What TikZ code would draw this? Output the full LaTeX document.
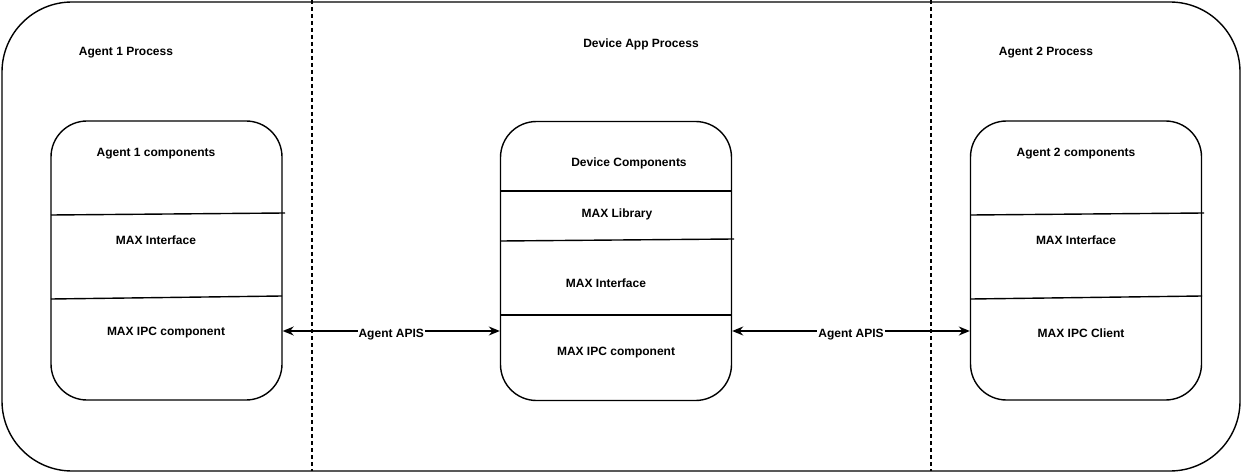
\documentclass[tikz,border=0pt]{standalone}
\usepackage{fontspec}
\setmainfont{Liberation Sans}
\usetikzlibrary{arrows.meta}
\begin{document}
\begin{tikzpicture}[x=1pt,y=-1pt,
  lbl/.style={font=\bfseries\fontsize{12}{14}\selectfont, inner sep=1pt, yshift=-2pt},
  comp/.style={draw, line width=1.4pt, rounded corners=36pt, minimum width=231pt, minimum height=279pt, inner sep=0pt},
  sep/.style={line width=1.4pt},
  divider/.style={line width=1.3pt, dash pattern=on 4pt off 3pt},
  api/.style={line width=1.4pt, {Stealth[length=11pt,width=9pt]}-{Stealth[length=11pt,width=9pt]}}
]
\useasboundingbox (0,0) rectangle (1242,473);
\draw[line width=1.4pt, rounded corners=70pt] (2,2) rectangle (1240,471);
\coordinate (d1t) at (312,0);
\coordinate (d1b) at (312,471);
\coordinate (d2t) at (931,0);
\coordinate (d2b) at (931,471);
\draw[divider] (d1t) -- (d1b);
\draw[divider] (d2t) -- (d2b);

\node[lbl] (t1) at (126,51) {Agent 1 Process};
\node[lbl] (t2) at (641,42) {Device App Process};
\node[lbl] (t3) at (1046,51) {Agent 2 Process};

% boxes
\node[comp] (b1) at (166.5,260.5) {};
\node[comp] (b2) at (616,261) {};
\node[comp] (b3) at (1086,260.5) {};

% separators box 1
\draw[sep] (51,215) -- (285,213);
\draw[sep] (51,299) -- (282,296);
% separators box 2
\draw[sep] (501,191) -- (731,191);
\draw[sep] (501,241) -- (734,239);
\draw[sep] (501,315) -- (731,315);
% separators box 3
\draw[sep] (971,215) -- (1204,213);
\draw[sep] (971,299) -- (1202,296);

\node[lbl] (c11) at (156,152) {Agent 1 components};
\node[lbl] (c12) at (156,238) {MAX Interface};
\node[lbl] (c13) at (166,331) {MAX IPC component};

\node[lbl] (c21) at (629,161) {Device Components};
\node[lbl] (c22) at (617,212) {MAX Library};
\node[lbl] (c23) at (606,281) {MAX Interface};
\node[lbl] (c24) at (616,351) {MAX IPC component};

\node[lbl] (c31) at (1076,152) {Agent 2 components};
\node[lbl] (c32) at (1076,238) {MAX Interface};
\node[lbl] (c33) at (1081,331) {MAX IPC Client};

\draw[api] ([yshift=-70.5pt]b1.east) -- node[lbl, fill=white, pos=0.5, yshift=-2pt] {Agent APIS} ([yshift=-70pt]b2.west);
\draw[api] ([yshift=-70pt]b2.east) -- node[lbl, fill=white, pos=0.5, yshift=-2pt] {Agent APIS} ([yshift=-70.5pt]b3.west);
\end{tikzpicture}
\end{document}
